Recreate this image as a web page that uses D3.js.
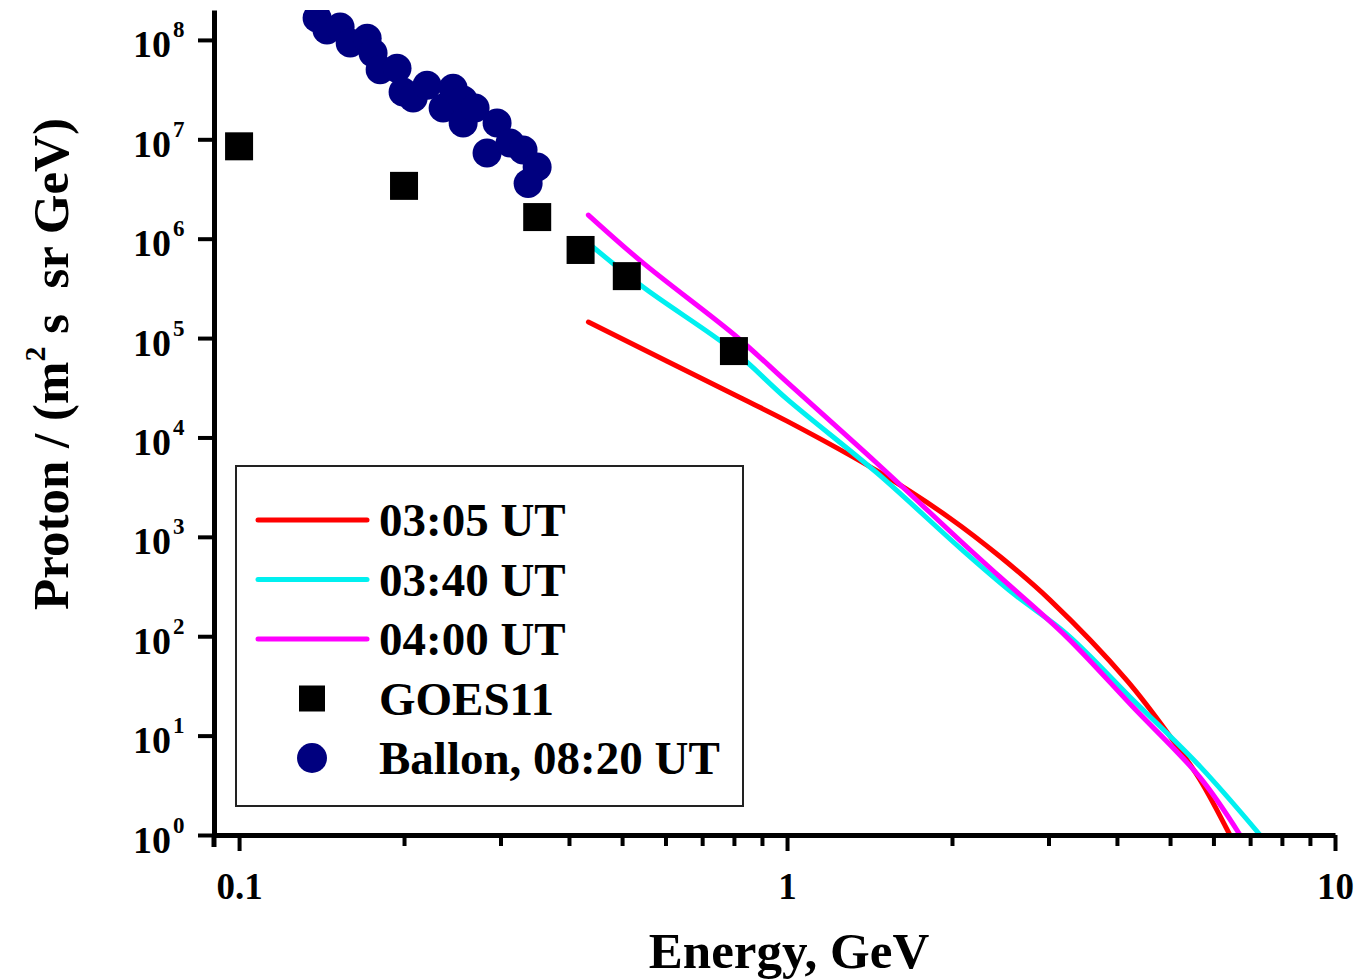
<!DOCTYPE html>
<html>
<head>
<meta charset="utf-8">
<style>
  body { margin: 0; background: #fff; }
  text { font-family: "Liberation Serif", "Times New Roman", serif; font-weight: bold; fill: #000; }
</style>
</head>
<body>
<svg width="1363" height="980"></svg>
<script src="https://d3js.org/d3.v7.min.js"></script>
<script>

// GOES11 points
var goesEnergy = [0.1, 0.2, 0.35, 0.42, 0.51, 0.80];
var goesFlux = [8.5e6, 3.4e6, 1.65e6, 7.7e5, 4.2e5, 7.4e4];

// balloon points
var ballonEnergy = [0.1388, 0.1447, 0.1529, 0.1595, 0.1713, 0.1756, 0.1809, 0.1942, 0.1992, 0.2078, 0.2203,
                    0.2357, 0.2458, 0.2564, 0.2564, 0.2696, 0.2957, 0.2835, 0.3122, 0.3298, 0.3499, 0.3369];
var ballonFlux = [1.66e8, 1.26e8, 1.35e8, 9.3e7, 1.04e8, 7.4e7, 5.0e7, 5.2e7, 2.99e7, 2.6e7, 3.5e7,
                  2.06e7, 3.27e7, 2.48e7, 1.46e7, 2.06e7, 1.46e7, 7.3e6, 9.2e6, 7.8e6, 5.25e6, 3.6e6];

// model spectra
var fit0305Energy = [0.434, 0.8, 1.0, 1.46, 1.98, 2.45, 3.02, 4.17, 5.06, 5.67, 6.43];
var fit0305Flux = [1.45e5, 2.7e4, 1.46e4, 4.6e3, 1.55e3, 630, 231, 36, 9.0, 3.6, 1.0];

var fit0340Energy = [0.434, 0.546, 0.80, 1.0, 1.459, 2.07, 2.585, 3.24, 4.28, 5.67, 7.3];
var fit0340Flux = [9.0e5, 3.26e5, 7.4e4, 2.43e4, 4.4e3, 770, 270, 105, 22.8, 4.9, 1.0];

var fit0400Energy = [0.434, 0.546, 0.811, 1.0, 1.459, 2.13, 2.447, 3.24, 4.28, 5.67, 6.71];
var fit0400Flux = [1.73e6, 5.7e5, 1.02e5, 3.6e4, 5.5e3, 790, 395, 98, 19.4, 3.8, 1.0];

var yTicks = [1, 10, 100, 1e3, 1e4, 1e5, 1e6, 1e7, 1e8];
var yExp = ["0", "1", "2", "3", "4", "5", "6", "7", "8"];
var xMajor = [0.1, 1, 10];
var xMinor = [0.2, 0.3, 0.4, 0.5, 0.6, 0.7, 0.8, 0.9, 2, 3, 4, 5, 6, 7, 8, 9];

var fits = [
  {label: "03:05 UT", color: "#ff0000", e: fit0305Energy, f: fit0305Flux},
  {label: "03:40 UT", color: "#00f0f0", e: fit0340Energy, f: fit0340Flux},
  {label: "04:00 UT", color: "#ff00ff", e: fit0400Energy, f: fit0400Flux}
];

var svg = d3.select("svg");

var x = d3.scaleLog().domain([0.09, 10]).range([214, 1335]);
var y = d3.scaleLog().domain([1, 2e8]).range([835, 10]);

svg.append("clipPath").attr("id", "plot")
  .append("rect")
  .attr("x", x.range()[0]).attr("y", y.range()[1])
  .attr("width", x.range()[1] - x.range()[0])
  .attr("height", y.range()[0] - y.range()[1]);

var plot = svg.append("g").attr("clip-path", "url(#plot)");

var line = d3.line()
  .x(function(d) { return x(d[0]); })
  .y(function(d) { return y(d[1]); })
  .curve(d3.curveCatmullRom);

fits.forEach(function(s) {
  plot.append("path")
    .datum(d3.zip(s.e, s.f))
    .attr("fill", "none")
    .attr("stroke", s.color)
    .attr("stroke-width", 5)
    .attr("stroke-linecap", "round")
    .attr("d", line);
});

var goes = d3.zip(goesEnergy, goesFlux);
plot.selectAll(".sq").data(goes).enter().append("rect")
  .attr("x", function(d) { return x(d[0]) - 14; })
  .attr("y", function(d) { return y(d[1]) - 14; })
  .attr("width", 28).attr("height", 28)
  .attr("fill", "#000");

var ballon = d3.zip(ballonEnergy, ballonFlux);
plot.selectAll(".dot").data(ballon).enter().append("circle")
  .attr("cx", function(d) { return x(d[0]); })
  .attr("cy", function(d) { return y(d[1]); })
  .attr("r", 14.5)
  .attr("fill", "#00007f");

// x axis: major + minor ticks
var xAxis = svg.append("g").attr("transform", "translate(0," + y.range()[0] + ")");
xAxis.call(d3.axisBottom(x).tickValues(xMajor).tickSize(16).tickSizeOuter(0)
  .tickFormat(function(d) { return d === 0.1 ? "0.1" : d3.format("d")(d); }));
svg.append("g").attr("transform", "translate(0," + y.range()[0] + ")")
  .call(d3.axisBottom(x).tickValues(xMinor).tickSize(11).tickFormat(""))
  .select(".domain").remove();
xAxis.selectAll("text")
  .attr("y", 64).attr("dy", null)
  .style("font-size", "37px");

// y axis
var yAxis = svg.append("g").attr("transform", "translate(" + x.range()[0] + ",0)");
yAxis.call(d3.axisLeft(y).tickValues(yTicks).tickSize(16).tickSizeOuter(0).tickFormat(""));
yAxis.selectAll(".tick").each(function(d, i) {
  var t = d3.select(this);
  t.append("text").attr("x", -43).attr("y", 17)
    .attr("text-anchor", "end")
    .style("font-size", "38px")
    .text("10");
  t.append("text").attr("x", -41).attr("y", -3)
    .attr("text-anchor", "start")
    .style("font-size", "23px")
    .text(yExp[i]);
});
yAxis.append("line")
  .attr("x1", 0).attr("x2", 0)
  .attr("y1", y.range()[0]).attr("y2", y.range()[0] + 12)
  .attr("stroke", "#000").attr("stroke-width", 5);

svg.selectAll(".domain").attr("stroke-width", 5);
svg.selectAll(".tick line").attr("stroke-width", 4);

// axis titles
svg.append("text")
  .attr("x", 789).attr("y", 968)
  .attr("text-anchor", "middle")
  .style("font-size", "51px")
  .text("Energy, GeV");

var yl = svg.append("text")
  .attr("transform", "translate(68,364) rotate(-90)")
  .attr("text-anchor", "middle")
  .style("font-size", "51px")
  .style("white-space", "pre");
yl.append("tspan").text("Proton / (m");
yl.append("tspan").attr("dy", -23).style("font-size", "30px").text("2");
yl.append("tspan").attr("dy", 23).text(" s  sr GeV)");

// legend
var leg = svg.append("g");
leg.append("rect")
  .attr("x", 236).attr("y", 466).attr("width", 507).attr("height", 340)
  .attr("fill", "#fff").attr("stroke", "#222").attr("stroke-width", 2);

var rowY = function(i) { return 520 + i * 59.5; };

fits.forEach(function(s, i) {
  leg.append("line")
    .attr("x1", 258).attr("x2", 367)
    .attr("y1", rowY(i)).attr("y2", rowY(i))
    .attr("stroke", s.color).attr("stroke-width", 5)
    .attr("stroke-linecap", "round");
  leg.append("text").attr("x", 379).attr("y", rowY(i) + 16)
    .style("font-size", "47px").text(s.label);
});
leg.append("rect")
  .attr("x", 312 - 13).attr("y", rowY(3) - 13)
  .attr("width", 26).attr("height", 26).attr("fill", "#000");
leg.append("text").attr("x", 379).attr("y", rowY(3) + 16)
  .style("font-size", "47px").text("GOES11");
leg.append("circle")
  .attr("cx", 312).attr("cy", rowY(4)).attr("r", 15).attr("fill", "#00007f");
leg.append("text").attr("x", 379).attr("y", rowY(4) + 16)
  .style("font-size", "47px").text("Ballon, 08:20 UT");

</script>
</body>
</html>
